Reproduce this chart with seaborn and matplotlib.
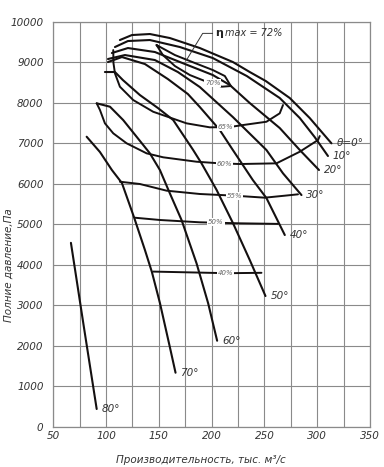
import matplotlib
matplotlib.use("Agg")
import matplotlib.pyplot as plt
import seaborn as sns
import numpy as np

# ---------------- data (Q, thousand m3/s ; P, Pa) ----------------
blade_labels = ["θ=0°", "10°", "20°", "30°", "40°", "50°", "60°", "70°", "80°"]

q_0 = [113.1, 124.5, 141.5, 160.4, 188.8, 220.1, 236.1, 251.3, 274.0, 292.9, 313.5]
p_0 = [9548, 9671, 9696, 9597, 9350, 9005, 8758, 8535, 8116, 7622, 6997]

q_10 = [108.4, 120.7, 141.5, 169.9, 201.1, 233.3, 264.5, 283.5, 297.6, 310.2]
p_10 = [9375, 9523, 9548, 9375, 9103, 8659, 8116, 7622, 7152, 6684]

q_20 = [105.5, 120.7, 146.2, 169.9, 201.1, 217.2, 236.1, 264.5, 283.5, 301.7]
p_20 = [9227, 9350, 9252, 9005, 8684, 8437, 7992, 7375, 6832, 6338]

q_30 = [101.8, 117.9, 146.2, 168.0, 188.8, 220.1, 251.9, 267.6, 285.1]
p_30 = [9079, 9177, 9054, 8758, 8387, 7646, 6832, 6256, 5720]

q_40 = [101.8, 115.0, 136.8, 158.5, 177.5, 188.8, 207.7, 220.1, 239.0, 251.9, 269.3]
p_40 = [9004, 9128, 8955, 8585, 8214, 7894, 7326, 6832, 6091, 5646, 4733]

q_50 = [98.9, 108.4, 115.9, 132.0, 149.1, 163.6, 176.2, 182.5, 190.4, 204.6, 220.3, 236.1, 251.0]
p_50 = [8758, 8758, 8560, 8190, 7869, 7572, 7079, 6832, 6503, 5851, 5022, 4116, 3227]

q_60 = [91.1, 103.7, 116.2, 128.9, 141.5, 151.0, 160.4, 171.5, 185.7, 196.7, 205.2]
p_60 = [7985, 7901, 7572, 7160, 6750, 6338, 5763, 5103, 4034, 3047, 2123]

q_70 = [81.6, 94.2, 105.5, 115.0, 126.4, 136.8, 143.4, 151.0, 160.4, 165.8]
p_70 = [7160, 6782, 6338, 6017, 5177, 4363, 3820, 3055, 1968, 1333]

q_80 = [66.7, 78.8, 91.1]
p_80 = [4540, 2490, 437]

blade_q = [q_0, q_10, q_20, q_30, q_40, q_50, q_60, q_70, q_80]
blade_p = [p_0, p_10, p_20, p_30, p_40, p_50, p_60, p_70, p_80]

# efficiency contours
eff_labels = ["70%", "65%", "60%", "55%", "50%", "40%"]
q_e70 = [147.8, 165.2, 184.1, 201.1, 212.5, 218.2, 209.6, 193.6, 179.4, 165.2, 153.8, 147.8]
p_e70 = [9424, 9177, 8980, 8807, 8659, 8412, 8395, 8535, 8683, 8906, 9177, 9424]

q_e65 = [106.8, 107.0, 108.4, 113.1, 125.7, 144.6, 176.2, 198.3, 217.2, 229.8, 251.9, 264.5, 267.6]
p_e65 = [9300, 8980, 8725, 8395, 8066, 7777, 7491, 7392, 7400, 7449, 7530, 7738, 7943]

q_e60 = [91.1, 94.2, 98.9, 106.8, 119.5, 138.4, 154.1, 185.7, 207.8, 226.7, 261.4, 283.5, 300.8, 302.4]
p_e60 = [7985, 7820, 7491, 7244, 6997, 6750, 6652, 6543, 6503, 6486, 6503, 6790, 7079, 7177]

q_e55 = [113.1, 132.0, 157.3, 188.8, 222.0, 250.3, 269.2, 281.8]
p_e55 = [6049, 5993, 5828, 5746, 5704, 5655, 5704, 5738]

q_e50 = [127.3, 151.0, 188.8, 226.7, 262.9]
p_e50 = [5160, 5104, 5047, 5022, 5008]

q_e40 = [144.6, 180.0, 215.0, 247.2]
p_e40 = [3830, 3810, 3790, 3800]

eff_q = [q_e70, q_e65, q_e60, q_e55, q_e50, q_e40]
eff_p = [p_e70, p_e65, p_e60, p_e55, p_e50, p_e40]
eff_label_q = [201.1, 213.4, 212.5, 221.9, 204.0, 213.4]
eff_label_p = [8486, 7400, 6486, 5696, 5054, 3790]

leader_q = [176.2, 191.5, 200.9]
leader_p = [9054, 9712, 9712]
max_text = "max = 72%"

x_ticks = [50, 100, 150, 200, 250, 300, 350]
y_ticks = [0, 1000, 2000, 3000, 4000, 5000, 6000, 7000, 8000, 9000, 10000]

# ---------------- figure ----------------
sns.set_style("white")
plt.rcParams['font.family'] = ['Liberation Sans Narrow', 'DejaVu Sans']

fig = plt.figure(figsize=(3.84, 4.67), dpi=100)
ax = fig.add_axes([0.1388, 0.0863, 0.8247, 0.8672])
ax.set_xlim(50, 350)
ax.set_ylim(0, 10000)

ax.set_xticks(x_ticks)
ax.set_xticks(np.arange(75, 350, 50), minor=True)
ax.set_yticks(y_ticks)
ax.grid(True, which='both', color='#8a8a8a', linewidth=0.8)
ax.set_axisbelow(True)
for s in ax.spines.values():
    s.set_color('#8a8a8a')
    s.set_linewidth(0.9)
ax.tick_params(which='both', length=0)
ax.tick_params(axis='y', pad=7, labelsize=7.5, labelcolor='#333333')
ax.tick_params(axis='x', pad=3, labelsize=7.5, labelcolor='#333333')
for lab in ax.get_xticklabels() + ax.get_yticklabels():
    lab.set_style('italic')

ink = '#141010'
for q, p, lab in zip(blade_q, blade_p, blade_labels):
    sns.lineplot(x=q, y=p, sort=False, estimator=None, color=ink,
                 linewidth=1.5, ax=ax, legend=False)
    ax.annotate(lab, (q[-1], p[-1]), xytext=(3.5, 0), textcoords='offset points',
                ha='left', va='center', fontsize=7.5, style='italic', color='#333333')

for q, p, lab, lq, lp in zip(eff_q, eff_p, eff_labels, eff_label_q, eff_label_p):
    sns.lineplot(x=q, y=p, sort=False, estimator=None, color=ink,
                 linewidth=1.4, ax=ax, legend=False)
    ax.text(lq, lp, lab, fontsize=5, style='italic', color='#666666',
            ha='center', va='center', zorder=6,
            bbox=dict(facecolor='white', edgecolor='none', pad=0.6))

sns.lineplot(x=leader_q, y=leader_p, sort=False, estimator=None, color='#333333',
             linewidth=0.7, ax=ax, legend=False)
ax.annotate("η", (leader_q[-1], leader_p[-1]), xytext=(1.5, 0), textcoords='offset points',
            fontsize=8, fontweight='bold', ha='left', va='center', color='#222222',
            family=['DejaVu Sans'])
ax.annotate(max_text, (leader_q[-1], leader_p[-1]), xytext=(9, 0), textcoords='offset points',
            fontsize=7, style='italic', ha='left', va='center', color='#333333')

ax.set_xlabel("Производительность, тыс. м³/с", fontsize=7.5, style='italic', color='#333333')
ax.set_ylabel("Полние давление,Па", fontsize=7.5, style='italic', color='#333333')
ax.xaxis.set_label_coords(0.465, -0.07)
ax.yaxis.set_label_coords(-0.124, 0.40)

fig.savefig("out.png", dpi=100)
